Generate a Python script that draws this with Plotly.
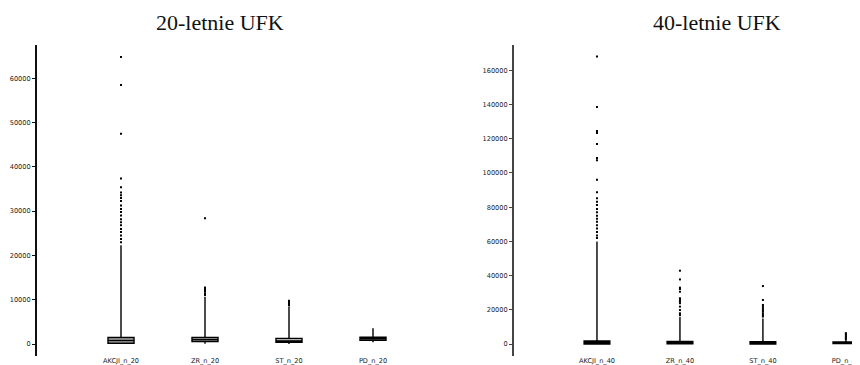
import plotly.graph_objects as go

# ---------------- data ----------------
cats20 = ["AKCJI_n_20", "ZR_n_20", "ST_n_20", "PD_n_20"]
q1_20 = [200, 600, 380, 850]
med_20 = [800, 1000, 700, 1200]
q3_20 = [1500, 1500, 1280, 1550]
lo_20 = [0, 100, 0, 400]
hi_20 = [22300, 10700, 8400, 3600]
out_akcji_20 = [64800, 58500, 47500, 37400, 35400, 34200, 33600, 33000, 32300, 31300,
                30500, 29800, 29000, 28200, 27500, 26800, 26000, 25300, 24500, 23700, 23000]
out_zr_20 = [28400, 12800, 12500, 12200, 11900, 11500, 11100]
out_st_20 = [9800, 9600, 9300, 9000, 8700]
out_pd_20 = []

cats40 = ["AKCJI_n_40", "ZR_n_40", "ST_n_40", "PD_n_40"]
q1_40 = [100, 200, 100, 300]
med_40 = [600, 600, 500, 700]
q3_40 = [1800, 1600, 1400, 1300]
lo_40 = [0, 0, 0, 0]
hi_40 = [60000, 16000, 15000, 2400]
out_akcji_40 = [168000, 138500, 124500, 123300, 117000, 108800, 107500, 96000, 88800, 85300,
                83200, 81300, 79000, 77000, 75000, 73300, 71500, 69500, 67500, 65500, 63500, 62000]
out_zr_40 = [42900, 37800, 33000, 32200, 30600, 26800, 25800, 24800, 23900, 21900, 19900, 18000, 17000]
out_st_40 = [33900, 25800, 22900, 21900, 20900, 20000, 19000, 18000, 17000, 16100]
out_pd_40 = [6400, 5800, 5000, 4300, 3500, 2900]

# page body has an 8px default margin; figure is sized to fill the rest of the window
OFF = 8
W, H = 860 - OFF, 365 - OFF

def fx(px):
    return (px - OFF) / W

def fy(py):
    return (365 - py) / H

fig = go.Figure()

def add_panel(cats, q1, med, q3, lo, hi, outs, xa, ya, fill):
    pos = list(range(len(cats)))
    fig.add_trace(go.Box(x=pos, q1=q1, median=med, q3=q3, lowerfence=lo, upperfence=hi,
                         boxpoints=False, width=0.31, whiskerwidth=0,
                         fillcolor=fill, line=dict(color="black", width=1.4),
                         xaxis=xa, yaxis=ya, showlegend=False, hoverinfo="skip"))
    for p, o in zip(pos, outs):
        if o:
            fig.add_trace(go.Scatter(x=[p] * len(o), y=o, mode="markers",
                                     marker=dict(symbol="square", size=2, color="black",
                                                 line=dict(width=0)),
                                     xaxis=xa, yaxis=ya, showlegend=False, hoverinfo="skip"))

add_panel(cats20, q1_20, med_20, q3_20, lo_20, hi_20,
          [out_akcji_20, out_zr_20, out_st_20, out_pd_20], "x", "y", "#b0b0b0")
add_panel(cats40, q1_40, med_40, q3_40, lo_40, hi_40,
          [out_akcji_40, out_zr_40, out_st_40, out_pd_40], "x2", "y2", "black")

ydom = [fy(361), fy(46)]
tickfont = dict(family="DejaVu Sans", size=6.6, color="#222")
xpos = fy(360)

fig.update_layout(
    width=W, height=H, margin=dict(l=0, r=0, t=0, b=0),
    paper_bgcolor="white", plot_bgcolor="white",
    xaxis=dict(domain=[fx(37), fx(415)], range=[-1.0, 3.5], tickvals=[0, 1, 2, 3], ticktext=cats20,
               anchor="free", position=xpos,
               showgrid=False, zeroline=False, showline=False, ticks="", tickfont=tickfont),
    yaxis=dict(domain=ydom, range=[-2700, 67400], tickvals=[0, 10000, 20000, 30000, 40000, 50000, 60000],
               tickformat="d",
               showgrid=False, zeroline=False, showline=True, linecolor="#111", linewidth=2,
               ticks="outside", ticklen=3, tickcolor="#111", tickfont=tickfont),
    xaxis2=dict(domain=[fx(514), 1.0], range=[-1.0, 3.17], tickvals=[0, 1, 2, 3], ticktext=cats40,
                anchor="free", position=xpos,
                showgrid=False, zeroline=False, showline=False, ticks="", tickfont=tickfont),
    yaxis2=dict(domain=ydom, range=[-6980, 174500], anchor="x2",
                tickvals=[0, 20000, 40000, 60000, 80000, 100000, 120000, 140000, 160000],
                tickformat="d",
                showgrid=False, zeroline=False, showline=True, linecolor="#444", linewidth=2,
                ticks="outside", ticklen=3, tickcolor="#444", tickfont=tickfont),
    annotations=[
        dict(text="20-letnie UFK", x=fx(220), y=fy(23), xref="paper", yref="paper",
             showarrow=False, font=dict(family="Liberation Serif", size=22, color="#111"),
             xanchor="center", yanchor="middle"),
        dict(text="40-letnie UFK", x=fx(717), y=fy(23), xref="paper", yref="paper",
             showarrow=False, font=dict(family="Liberation Serif", size=22, color="#111"),
             xanchor="center", yanchor="middle"),
    ],
)

fig.write_html("out.html")
